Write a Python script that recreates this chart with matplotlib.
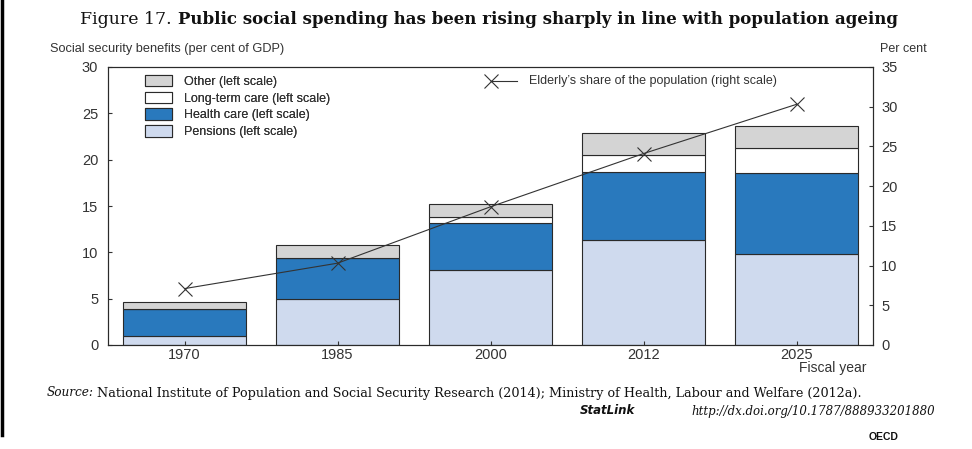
import matplotlib.pyplot as plt
from matplotlib.lines import Line2D
from matplotlib.patches import Patch

plt.rcParams['font.family'] = ['Liberation Sans', 'DejaVu Sans']

years = ['1970', '1985', '2000', '2012', '2025']
pensions = [1.0, 5.0, 8.1, 11.3, 9.8]
health = [2.85, 4.35, 5.05, 7.35, 8.75]
long_term = [0.0, 0.0, 0.65, 1.85, 2.7]
other = [0.75, 1.4, 1.4, 2.35, 2.4]
elderly = [7.1, 10.3, 17.4, 24.1, 30.3]

c_pen = '#cfdaee'
c_hea = '#2979bd'
c_ltc = '#ffffff'
c_oth = '#d4d4d4'
edge = '#2a2a2a'
txt = '#333333'

fig = plt.figure(figsize=(9.72, 4.49), dpi=100)
ax = fig.add_axes([108/972, 1-345/449, 765/972, 278/449])

x = list(range(len(years)))
bottom = [0.0]*len(years)
for vals, col in [(pensions, c_pen), (health, c_hea), (long_term, c_ltc), (other, c_oth)]:
    ax.bar(x, vals, bottom=bottom, width=0.8, color=col, edgecolor=edge, linewidth=0.8)
    bottom = [b + v for b, v in zip(bottom, vals)]

ax.set_xlim(-0.5, 4.5)
ax.set_ylim(0, 30)
ax.set_yticks(range(0, 31, 5))
ax.set_xticks(x)
ax.set_xticklabels(years)
ax.tick_params(direction='in', length=3, width=0.8, labelsize=10.5, colors=txt, pad=2)
ax.tick_params(axis='y', pad=7)
for s in ax.spines.values():
    s.set_linewidth(0.8)
    s.set_color(edge)

ax2 = ax.twinx()
ax2.set_ylim(0, 35)
ax2.set_yticks(range(0, 36, 5))
ax2.tick_params(direction='in', length=3, width=0.8, labelsize=10.5, colors=txt, pad=6)
ax2.plot(x, elderly, color='#333333', lw=0.8, marker='x', markersize=10,
         markeredgewidth=0.8)
for s in ax2.spines.values():
    s.set_linewidth(0.8)
    s.set_color(edge)

# legend for bars
handles = [Patch(facecolor=c, edgecolor=edge, linewidth=0.8) for c in [c_oth, c_ltc, c_hea, c_pen]]
labels = ['Other (left scale)', 'Long-term care (left scale)', 'Health care (left scale)',
          'Pensions (left scale)']
leg = ax2.legend(handles, labels, loc='upper left', bbox_to_anchor=(0.049, 0.972),
                 frameon=False, fontsize=9, handlelength=2.1, handleheight=1.05,
                 labelspacing=0.3, handletextpad=0.95, borderpad=0, borderaxespad=0)
for t in leg.get_texts():
    t.set_color(txt)
ax2.add_artist(leg)

# legend for line, marker at left end
ax2.plot([(491-108)/765, (517-108)/765], [(345-81)/278]*2, transform=ax2.transAxes,
         color='#333333', lw=0.8, marker='x', markersize=10, markeredgewidth=0.8,
         markevery=[0], clip_on=False)
ax2.text((529-108)/765, (345-81)/278, "Elderly’s share of the population (right scale)",
         transform=ax2.transAxes, fontsize=9, color=txt, va='center', ha='left')

fig.text(50/972, 1-49/449, 'Social security benefits (per cent of GDP)', fontsize=9.2,
         color=txt, va='center', ha='left')
fig.text(880/972, 1-49/449, 'Per cent', fontsize=9, color=txt, va='center', ha='left')
fig.text(866/972, 1-368/449, 'Fiscal year', fontsize=10, color=txt, va='center', ha='right')

# title: regular prefix then bold
fig.text(80/972, 1-20/449, 'Figure 17.', family='DejaVu Serif', fontsize=12.5,
         va='center', ha='left', color='#111111')
fig.text(178/972, 1-20/449, 'Public social spending has been rising sharply in line with population ageing',
         family='DejaVu Serif', fontweight='bold', fontsize=12, va='center', ha='left',
         color='#111111')

fig.text(47/972, 1-393/449, 'Source:', family='DejaVu Serif', style='italic', fontsize=8.7,
         va='center', ha='left', color='#111111')
fig.text(97/972, 1-393/449,
         'National Institute of Population and Social Security Research (2014); Ministry of Health, Labour and Welfare (2012a).',
         family='DejaVu Serif', fontsize=9.2, va='center', ha='left', color='#111111')
fig.text(580/972, 1-411/449, 'StatLink', family='DejaVu Sans', style='italic', fontweight='bold',
         fontsize=8.5, va='center', ha='left', color='#111111')
fig.text(935/972, 1-411/449, 'http://dx.doi.org/10.1787/888933201880', family='DejaVu Serif',
         style='italic', fontsize=8.5, va='center', ha='right', color='#111111')
fig.text(884/972, 1-437/449, 'OECD', fontsize=7.5, fontweight='bold', va='center', ha='center',
         color='#111111')

fig.add_artist(Line2D([1.5/972, 1.5/972], [1-435/449, 1], transform=fig.transFigure,
                      color='black', lw=2.5))

fig.savefig('out.png', dpi=100)
